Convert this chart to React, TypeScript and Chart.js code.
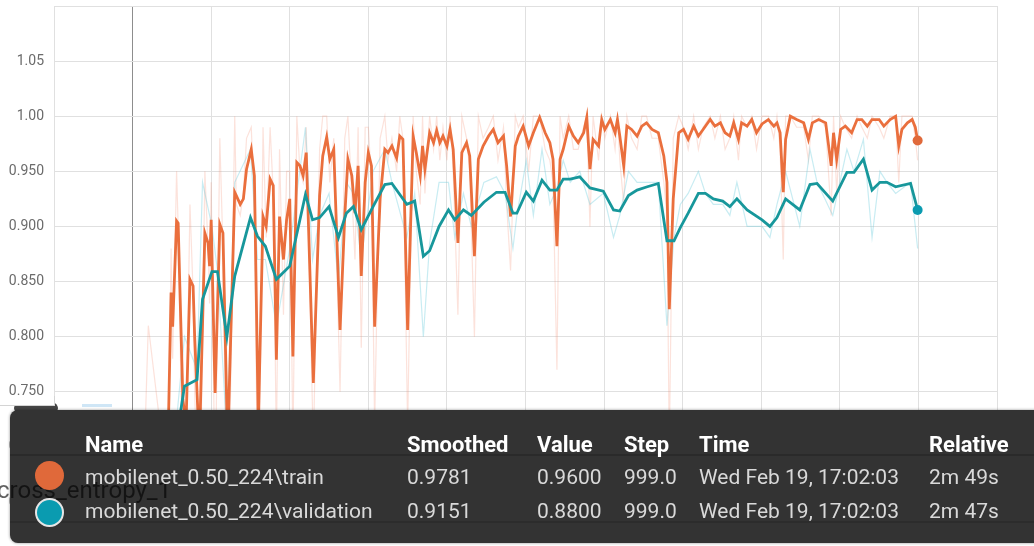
import React, { useEffect, useRef } from "react";
import { Chart, registerables } from "chart.js";

Chart.register(...registerables);

// ---- data ----
const trainSteps = [
  0, 20, 45, 49, 51, 56, 58, 64, 68, 73,
  77, 79, 85, 92, 96, 98, 100, 105, 111, 115,
  121, 130, 132, 137, 141, 145, 151, 155, 160, 166,
  170, 175, 179, 183, 187, 192, 196, 200, 204, 209,
  213, 217, 221, 230, 238, 242, 247, 251, 256, 264,
  270, 274, 279, 283, 287, 291, 296, 300, 304, 308,
  315, 321, 325, 330, 336, 340, 344, 350, 357, 361,
  366, 369, 372, 378, 383, 387, 391, 395, 400, 404,
  408, 414, 419, 425, 429, 435, 440, 446, 453, 459,
  465, 472, 476, 481, 487, 491, 497, 504, 510, 518,
  525, 531, 535, 540, 544, 548, 555, 561, 567, 574,
  578, 582, 586, 593, 597, 601, 608, 614, 617, 620,
  625, 629, 635, 642, 648, 654, 661, 669, 676, 680,
  683, 688, 695, 701, 707, 714, 720, 726, 735, 741,
  748, 754, 760, 765, 771, 775, 782, 788, 794, 801,
  809, 816, 820, 824, 828, 831, 837, 845, 854, 860,
  865, 873, 882, 889, 892, 896, 901, 907, 915, 922,
  928, 935, 941, 950, 956, 964, 971, 975, 979, 986,
  992, 996, 999,
];

const trainSmoothed = [
  0.40, 0.55, 0.70, 0.840, 0.809, 0.905, 0.903, 0.743, 0.720, 0.852,
  0.846, 0.800, 0.700, 0.894, 0.885, 0.864, 0.906, 0.749, 0.902, 0.894,
  0.700, 0.931, 0.928, 0.920, 0.925, 0.952, 0.970, 0.946, 0.720, 0.909,
  0.900, 0.943, 0.937, 0.779, 0.909, 0.870, 0.906, 0.925, 0.782, 0.958,
  0.955, 0.946, 0.967, 0.758, 0.928, 0.964, 0.981, 0.961, 0.970, 0.806,
  0.909, 0.961, 0.946, 0.912, 0.955, 0.855, 0.940, 0.967, 0.955, 0.809,
  0.925, 0.970, 0.967, 0.973, 0.962, 0.982, 0.979, 0.806, 0.982, 0.967,
  0.946, 0.973, 0.952, 0.985, 0.976, 0.987, 0.976, 0.982, 0.973, 0.988,
  0.970, 0.885, 0.967, 0.976, 0.964, 0.873, 0.961, 0.973, 0.982, 0.988,
  0.976, 0.982, 0.955, 0.909, 0.973, 0.982, 0.991, 0.973, 0.985, 0.999,
  0.985, 0.976, 0.961, 0.882, 0.961, 0.970, 0.991, 0.982, 0.976, 0.985,
  0.999, 0.952, 0.979, 0.973, 0.997, 0.988, 0.997, 0.985, 0.997, 0.982,
  0.955, 0.991, 0.988, 0.982, 0.991, 0.994, 0.988, 0.985, 0.964, 0.940,
  0.825, 0.925, 0.985, 0.988, 0.979, 0.991, 0.982, 0.988, 0.997, 0.991,
  0.994, 0.985, 0.982, 0.994, 0.979, 0.994, 0.991, 0.997, 0.985, 0.993,
  0.997, 0.991, 0.994, 0.985, 0.931, 0.979, 1.000, 0.997, 0.994, 0.979,
  0.994, 0.997, 0.994, 0.955, 0.985, 0.961, 0.988, 0.991, 0.985, 0.997,
  0.997, 0.991, 0.997, 0.997, 0.991, 0.997, 1.000, 0.973, 0.988, 0.994,
  0.997, 0.990, 0.978,
];

const trainRaw = [
  0.35, 0.81, 0.66, 0.88, 0.78, 0.95, 0.90, 0.66, 0.70, 0.92,
  0.84, 0.75, 0.60, 0.95, 0.88, 0.83, 0.94, 0.65, 0.98, 0.88,
  0.58, 1.00, 0.92, 0.91, 0.93, 0.98, 0.99, 0.92, 0.60, 0.99,
  0.89, 0.99, 0.93, 0.70, 0.97, 0.82, 0.95, 0.95, 0.70, 1.00,
  0.95, 0.94, 0.99, 0.70, 0.97, 1.00, 1.00, 0.94, 0.98, 0.75,
  0.98, 1.00, 0.93, 0.87, 0.99, 0.79, 0.99, 0.99, 0.94, 0.72,
  0.98, 1.00, 0.96, 0.98, 0.95, 1.00, 0.98, 0.72, 1.00, 0.95,
  0.92, 1.00, 0.93, 1.00, 0.97, 1.00, 0.96, 0.99, 0.96, 1.00,
  0.95, 0.82, 1.00, 0.98, 0.95, 0.80, 1.00, 0.98, 0.99, 1.00,
  0.96, 0.99, 0.92, 0.86, 1.00, 0.99, 1.00, 0.95, 1.00, 1.00,
  0.97, 0.96, 0.94, 0.77, 1.00, 0.98, 1.00, 0.97, 0.97, 0.99,
  1.00, 0.90, 1.00, 0.96, 1.00, 0.98, 1.00, 0.97, 1.00, 0.96,
  0.92, 1.00, 0.98, 0.97, 1.00, 1.00, 0.98, 0.98, 0.94, 0.91,
  0.70, 0.98, 1.00, 0.99, 0.97, 1.00, 0.97, 0.99, 1.00, 0.98,
  1.00, 0.97, 0.98, 1.00, 0.96, 1.00, 0.99, 1.00, 0.97, 1.00,
  1.00, 0.98, 1.00, 0.97, 0.87, 1.00, 1.00, 0.99, 0.99, 0.96,
  1.00, 1.00, 0.99, 0.91, 1.00, 0.93, 1.00, 0.99, 0.98, 1.00,
  0.99, 0.98, 1.00, 0.99, 0.98, 1.00, 1.00, 0.94, 1.00, 1.00,
  1.00, 0.98, 0.96,
];

const valSteps = [
  50, 66, 82, 89, 101, 108, 120, 130, 150, 159,
  169, 183, 200, 220, 229, 238, 250, 262, 272, 281,
  291, 306, 321, 330, 349, 359, 370, 378, 390, 402,
  410, 421, 431, 447, 463, 474, 484, 489, 501, 510,
  521, 531, 540, 548, 557, 569, 582, 599, 612, 620,
  631, 642, 655, 669, 680, 689, 697, 707, 720, 729,
  739, 751, 760, 769, 782, 801, 811, 820, 831, 849,
  862, 871, 891, 909, 918, 930, 941, 951, 960, 971,
  990, 999,
];

const valSmoothed = [
  0.68, 0.755, 0.761, 0.834, 0.859, 0.859, 0.800, 0.855, 0.908, 0.891,
  0.882, 0.852, 0.864, 0.929, 0.906, 0.908, 0.918, 0.890, 0.912, 0.918,
  0.897, 0.918, 0.938, 0.939, 0.920, 0.923, 0.873, 0.878, 0.900, 0.915,
  0.906, 0.915, 0.910, 0.922, 0.931, 0.931, 0.912, 0.912, 0.931, 0.923,
  0.942, 0.933, 0.933, 0.943, 0.943, 0.945, 0.935, 0.932, 0.915, 0.914,
  0.928, 0.933, 0.936, 0.939, 0.887, 0.887, 0.899, 0.912, 0.930, 0.930,
  0.925, 0.923, 0.918, 0.925, 0.915, 0.906, 0.900, 0.908, 0.925, 0.915,
  0.938, 0.939, 0.923, 0.949, 0.949, 0.961, 0.933, 0.940, 0.940, 0.936,
  0.939, 0.915,
];

const valRaw = [
  0.68, 0.80, 0.77, 0.94, 0.90, 0.86, 0.71, 0.94, 0.97, 0.87,
  0.87, 0.81, 0.88, 0.99, 0.87, 0.91, 0.93, 0.85, 0.94, 0.93,
  0.87, 0.95, 0.97, 0.94, 0.89, 0.93, 0.80, 0.885, 0.94, 0.94,
  0.89, 0.93, 0.90, 0.94, 0.945, 0.93, 0.88, 0.91, 0.96, 0.91,
  0.97, 0.92, 0.935, 0.96, 0.94, 0.95, 0.92, 0.93, 0.89, 0.91,
  0.95, 0.94, 0.94, 0.94, 0.81, 0.89, 0.92, 0.93, 0.95, 0.93,
  0.92, 0.92, 0.91, 0.94, 0.90, 0.90, 0.89, 0.92, 0.95, 0.90,
  0.97, 0.94, 0.91, 0.97, 0.95, 0.979, 0.89, 0.95, 0.94, 0.93,
  0.94, 0.88,
];

const headers = ["Name", "Smoothed", "Value", "Step", "Time", "Relative"];
const runNames = ["mobilenet_0.50_224\\train", "mobilenet_0.50_224\\validation"];
const runSmoothed = ["0.9781", "0.9151"];
const runValues = ["0.9600", "0.8800"];
const runSteps = ["999.0", "999.0"];
const runTimes = ["Wed Feb 19, 17:02:03", "Wed Feb 19, 17:02:03"];
const runRelative = ["2m 49s", "2m 47s"];
const chartTitle = "cross_entropy_1";

const ORANGE = "#ea6f3d";
const TEAL = "#17979b";
const ORANGE_DOT = "#e0693a";
const TEAL_DOT = "#0a9bb0";

export default function App() {
  const ref = useRef<HTMLCanvasElement>(null);

  useEffect(() => {
    if (!ref.current) return;
    const lastOnly = (n: number) => (c: any) => (c.dataIndex === n - 1 ? 5 : 0);
    const chart = new Chart(ref.current, {
      type: "line",
      data: {
        datasets: [
          {
            label: "validation",
            data: valSteps.map((x, i) => ({ x, y: valSmoothed[i] })),
            borderColor: TEAL,
            borderWidth: 2.8,
            pointRadius: lastOnly(valSteps.length),
            pointBackgroundColor: TEAL_DOT,
            pointBorderWidth: 0,
            tension: 0,
            order: 0,
          },
          {
            label: "train",
            data: trainSteps.map((x, i) => ({ x, y: trainSmoothed[i] })),
            borderColor: ORANGE,
            borderWidth: 2.8,
            pointRadius: lastOnly(trainSteps.length),
            pointBackgroundColor: ORANGE_DOT,
            pointBorderWidth: 0,
            tension: 0,
            order: 1,
          },
          {
            label: "validation raw",
            data: valSteps.map((x, i) => ({ x, y: valRaw[i] })),
            borderColor: "rgba(110,205,220,0.38)",
            borderWidth: 1.2,
            pointRadius: 0,
            tension: 0,
            order: 2,
          },
          {
            label: "train raw",
            data: trainSteps.map((x, i) => ({ x, y: trainRaw[i] })),
            borderColor: "rgba(245,140,110,0.25)",
            borderWidth: 1.2,
            pointRadius: 0,
            tension: 0,
            order: 3,
          },
        ],
      },
      options: {
        animation: false,
        responsive: true,
        maintainAspectRatio: false,
        layout: { padding: { left: 0, right: 37, top: 6, bottom: 44 } },
        plugins: { legend: { display: false }, tooltip: { enabled: false } },
        scales: {
          x: {
            type: "linear",
            min: -100,
            max: 1100,
            ticks: { display: false, stepSize: 100 },
            grid: {
              drawTicks: false,
              lineWidth: 1,
              color: (c: any) => (c.tick && c.tick.value === 0 ? "#8d8d8d" : "#e0e0e0"),
            },
            border: { display: false },
            afterFit: (s: any) => {
              s.height = 0;
              s.paddingLeft = 0;
              s.paddingRight = 0;
            },
          },
          y: {
            type: "linear",
            min: 0.65,
            max: 1.1,
            ticks: {
              stepSize: 0.05,
              padding: 10,
              color: "#6b6b6b",
              font: { family: "Roboto, sans-serif", size: 14 },
              callback: (v: any) => {
                const n = Number(v);
                if (Math.abs(n - 1.1) < 1e-6) return "";
                return n >= 0.999 ? n.toFixed(2) : n.toFixed(3);
              },
            },
            grid: { drawTicks: false, color: "#e0e0e0", lineWidth: 1 },
            border: { display: false },
            afterFit: (s: any) => {
              s.width = 54;
              s.paddingTop = 0;
              s.paddingBottom = 0;
            },
          },
        },
      },
    });
    return () => chart.destroy();
  }, []);

  const colLeft = [85, 407, 537, 624, 699, 929];
  const rowTops = [467, 501];
  const rowText = "#d9d9d9";
  const cell = (text: string, left: number, top: number, key: string, bold = false) => (
    <div
      key={key}
      style={{
        position: "absolute",
        left,
        top,
        fontSize: bold ? 22 : 21,
        lineHeight: bold ? "22px" : "21px",
        fontWeight: bold ? 700 : 400,
        color: bold ? "#ffffff" : rowText,
        whiteSpace: "nowrap",
        zIndex: 4,
      }}
    >
      {text}
    </div>
  );

  return (
    <div
      style={{
        position: "fixed",
        left: 0,
        top: 0,
        width: 1034,
        height: 546,
        overflow: "hidden",
        background: "#ffffff",
        fontFamily: "Roboto, 'Noto Sans', sans-serif",
      }}
    >
      <div style={{ position: "absolute", left: 0, top: 0, width: 1034, height: 546 }}>
        <canvas ref={ref} />
      </div>
      {/* small artifacts above the tooltip */}
      <div
        style={{
          position: "absolute",
          left: 14,
          top: 398,
          width: 44,
          height: 20,
          borderRadius: "50%",
          background: "#454545",
          zIndex: 1,
        }}
      />
      <div
        style={{
          position: "absolute",
          left: 0,
          top: 396,
          width: 54,
          height: 9,
          background: "#ffffff",
          borderRight: "1px solid #d4d4d4",
          borderBottom: "1px solid #d4d4d4",
          zIndex: 1,
        }}
      />
      <div style={{ position: "absolute", left: 82, top: 404, width: 30, height: 3, background: "#cfe6f6", zIndex: 1 }} />
      {/* tooltip background */}
      <div
        style={{
          position: "absolute",
          left: 10,
          top: 410,
          width: 1040,
          height: 133,
          borderRadius: 8,
          background: "#333333",
          boxShadow: "0 0 3px rgba(0,0,0,0.45)",
          zIndex: 2,
        }}
      />
      <div style={{ position: "absolute", left: 10, top: 454, width: 1040, height: 2, background: "#2a2a2a", zIndex: 2 }} />
      <div style={{ position: "absolute", left: 10, top: 521, width: 1040, height: 2, background: "#2c2c2c", zIndex: 2 }} />
      {/* chart title peeking through */}
      <div
        style={{
          position: "absolute",
          left: -3,
          top: 478,
          fontSize: 24,
          lineHeight: "24px",
          color: "rgba(0,0,0,0.62)",
          whiteSpace: "nowrap",
          zIndex: 3,
        }}
      >
        {chartTitle}
      </div>
      {/* run swatches */}
      <div
        style={{
          position: "absolute",
          left: 35,
          top: 461,
          width: 29,
          height: 29,
          borderRadius: "50%",
          background: ORANGE_DOT,
          zIndex: 4,
        }}
      />
      <div
        style={{
          position: "absolute",
          left: 35,
          top: 498,
          width: 25,
          height: 25,
          borderRadius: "50%",
          background: TEAL_DOT,
          border: "2px solid #e6e6e6",
          zIndex: 4,
        }}
      />
      {headers.map((h, i) => cell(h, colLeft[i], 434, "h" + i, true))}
      {runNames.map((n, r) => (
        <React.Fragment key={"r" + r}>
          {cell(n, colLeft[0], rowTops[r], "n" + r)}
          {cell(runSmoothed[r], colLeft[1], rowTops[r], "s" + r)}
          {cell(runValues[r], colLeft[2], rowTops[r], "v" + r)}
          {cell(runSteps[r], colLeft[3], rowTops[r], "st" + r)}
          {cell(runTimes[r], colLeft[4], rowTops[r], "t" + r)}
          {cell(runRelative[r], colLeft[5], rowTops[r], "rl" + r)}
        </React.Fragment>
      ))}
    </div>
  );
}
